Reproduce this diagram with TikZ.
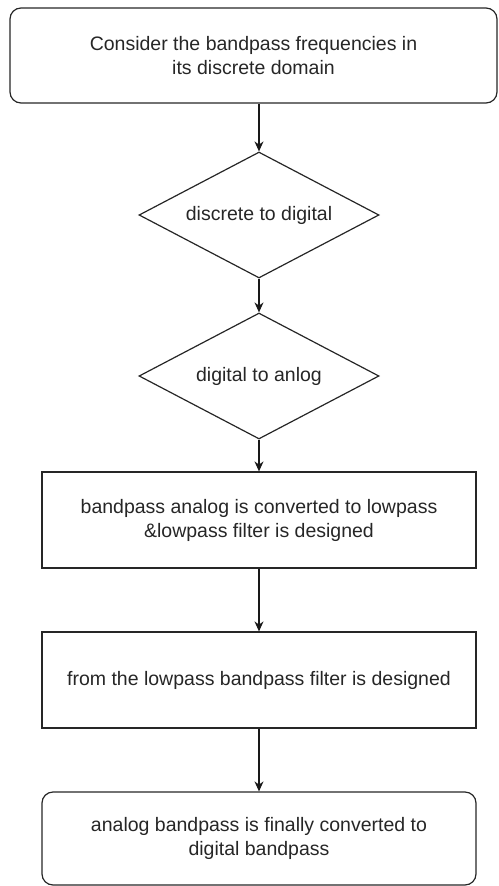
\documentclass[tikz,border=0pt]{standalone}
\usepackage{fontspec}
\setmainfont{Liberation Sans}
\usetikzlibrary{arrows.meta}
\usetikzlibrary{shapes.geometric}

\begin{document}
\begin{tikzpicture}[x=1pt,y=-1pt,
  every node/.style={font=\fontsize{19.5}{24}\selectfont, text=black!85, align=center, line width=1.2pt, draw=black!85},
  blockbox/.style={rectangle, minimum width=434pt, minimum height=96pt, inner sep=0pt},
  endbox/.style={blockbox, rounded corners=11pt},
  choice/.style={diamond, aspect=1.9, minimum width=240pt, minimum height=126pt, inner sep=0pt},
  arr/.style={-{Stealth[length=10pt,width=9pt]}, line width=1.2pt, draw=black!90}]
\useasboundingbox (0,0) rectangle (498,886);
\node[endbox, minimum width=487pt, minimum height=95pt] (start) at (253.5,55.5) {Consider the bandpass frequencies in\\its discrete domain};
\node[choice] (dtod) at (259,215) {discrete to digital};
\node[choice] (dtoa) at (259,376) {digital to anlog};
\node[blockbox] (conv) at (259,520) {bandpass analog is converted to lowpass\\\&lowpass filter is designed};
\node[blockbox] (design) at (259,680) {from the lowpass bandpass filter is designed};
\node[endbox, minimum height=93pt] (final) at (259,838.5) {analog bandpass is finally converted to\\digital bandpass};
\draw[arr] (dtod.north |- start.south) -- (dtod.north);
\draw[arr] (dtod) -- (dtoa);
\draw[arr] (dtoa) -- (conv);
\draw[arr] (conv) -- (design);
\draw[arr] (design) -- (final);
\end{tikzpicture}
\end{document}
